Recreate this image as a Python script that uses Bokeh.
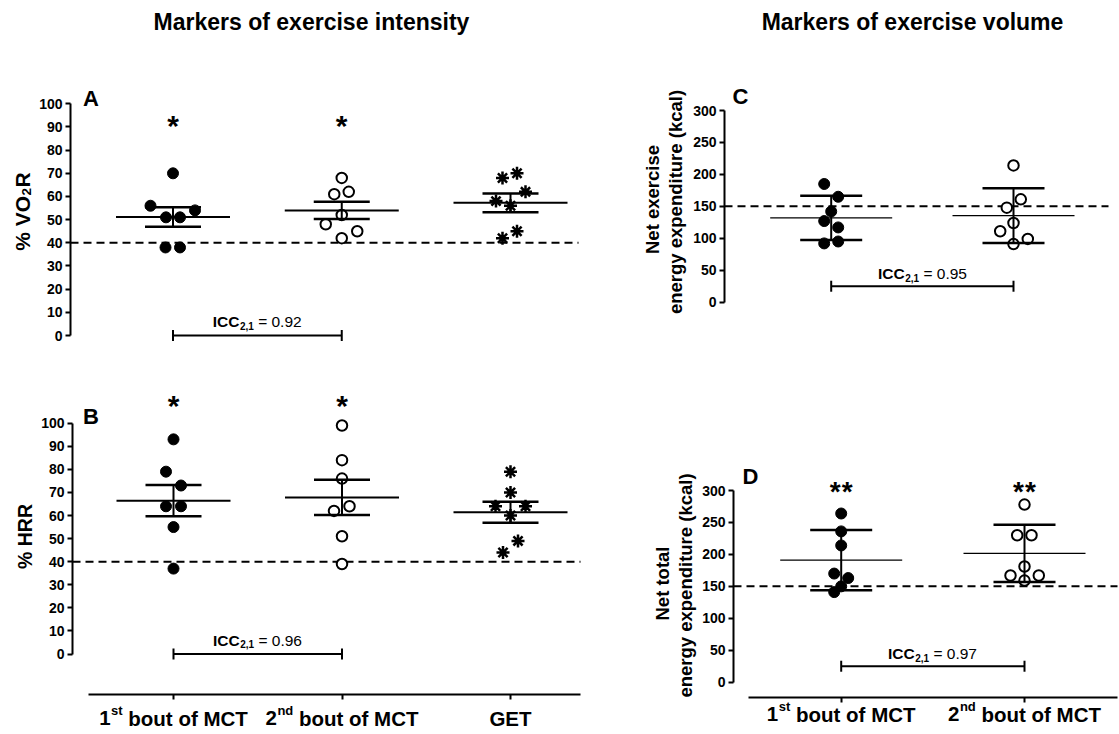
import numpy as np
from bokeh.plotting import figure
from bokeh.models import Range1d, Label, FixedTicker
from bokeh.layouts import row, column
from bokeh.embed import file_html
from bokeh.resources import INLINE

# ---------------- data ----------------
categories_intensity = ["1st bout of MCT", "2nd bout of MCT", "GET"]
categories_volume = ["1st bout of MCT", "2nd bout of MCT"]

vo2r_mct1 = [70, 56, 51, 51, 54, 38, 38]
vo2r_mct2 = [68, 61, 62, 52, 48, 45, 42]
vo2r_get = [68, 70, 62, 58, 56, 42, 45]

hrr_mct1 = [93, 79, 73, 64, 64, 55, 37]
hrr_mct2 = [99, 84, 76, 62, 64, 51, 39]
hrr_get = [79, 70, 64, 64, 60, 49, 44]

net_ex_mct1 = [185, 165, 142, 127, 117, 92, 95]
net_ex_mct2 = [214, 161, 148, 124, 111, 91, 99]

net_tot_mct1 = [264, 236, 214, 170, 163, 141, 150]
net_tot_mct2 = [278, 230, 230, 181, 167, 167, 159]

icc_vo2r = 0.92
icc_hrr = 0.96
icc_net_ex = 0.95
icc_net_tot = 0.97

intensity_threshold = 40
volume_threshold = 150
y_ticks_intensity = [0, 10, 20, 30, 40, 50, 60, 70, 80, 90, 100]
y_ticks_volume = [0, 50, 100, 150, 200, 250, 300]

# ---------------- layout: horizontal scatter of the points (px) ----------------
vo2r_mct1_dx = [0, -22.5, -7, 7, 22, -7.5, 7]
vo2r_mct2_dx = [0, -7.5, 7, 0, -16, 15.5, 0]
vo2r_get_dx = [-8, 6.5, 15, -14.5, 0, -8, 6.5]
hrr_mct1_dx = [0, -7.5, 7.5, -7.5, 7.5, 0, 0]
hrr_mct2_dx = [0, 0, 0, -8, 7.5, 0, 0]
hrr_get_dx = [0, 0, -15, 15, 0, 7.5, -7.5]
net_ex_mct1_dx = [-7, 7, 0, -7, 7, -7, 7]
net_ex_mct2_dx = [0, 7.3, -6.7, 0, -13.3, 0, 14.3]
net_tot_mct1_dx = [0, 0, 0, -7, 7, -7, 0]
net_tot_mct2_dx = [0, -7.3, 7, 0, -14, 14.3, 0]

FONT = "Liberation Sans"

BOLD_W = {' ': 278, '%': 889, '(': 333, ')': 333, ',': 278, '.': 278, '=': 584, '*': 389,
          'A': 722, 'B': 722, 'C': 722, 'D': 722, 'E': 667, 'G': 778, 'H': 722, 'I': 278,
          'M': 833, 'N': 722, 'O': 778, 'R': 722, 'T': 611, 'V': 667,
          'a': 556, 'b': 611, 'c': 556, 'd': 611, 'e': 556, 'f': 333, 'g': 611, 'i': 278,
          'k': 556, 'l': 278, 'm': 889, 'n': 611, 'o': 611, 'p': 611, 'r': 389, 's': 556,
          't': 333, 'u': 611, 'v': 556, 'x': 556, 'y': 556}
REG_W = {' ': 278, '=': 584, '.': 278, ',': 278}


def text_w(s, size, bold=True):
    tab = BOLD_W if bold else REG_W
    return sum(tab.get(c, 556) for c in s) / 1000.0 * size


def make_panel(fig_box, xcal, ycal, y_axis_px, x_axis_px=None):
    """Frame covers the whole figure; axes are pinned with fixed_location."""
    fx0, fy0, fw, fh = fig_box
    (px0, vx0), (px1, vx1) = xcal
    (py0, vy0), (py1, vy1) = ycal
    sx = (vx1 - vx0) / (px1 - px0)
    sy = (vy1 - vy0) / (py1 - py0)

    def X(px):
        return vx0 + (px - px0) * sx

    def Y(py):
        return vy0 + (py - py0) * sy

    p = figure(width=fw, height=fh,
               x_range=Range1d(X(fx0), X(fx0 + fw)), y_range=Range1d(Y(fy0 + fh), Y(fy0)),
               min_border_left=0, min_border_right=0, min_border_top=0, min_border_bottom=0,
               toolbar_location=None, output_backend="svg",
               x_axis_location="below" if x_axis_px is not None else None,
               y_axis_location="left")
    p.title.visible = False
    p.grid.visible = False
    p.outline_line_color = None
    p.background_fill_color = "white"
    p.border_fill_color = "white"
    p.yaxis[0].fixed_location = X(y_axis_px)
    if x_axis_px is not None:
        p.xaxis[0].fixed_location = Y(x_axis_px)
    return p, X, Y, 1.0 / sx


def style_y(p, ticks):
    ax = p.yaxis[0]
    ax.ticker = FixedTicker(ticks=ticks)
    ax.bounds = (ticks[0], ticks[-1])
    ax.axis_line_width = 2
    ax.axis_line_color = "black"
    ax.major_tick_line_width = 2
    ax.major_tick_line_color = "black"
    ax.major_tick_out = 5
    ax.major_tick_in = 0
    ax.minor_tick_line_color = None
    ax.major_label_text_font = FONT
    ax.major_label_text_font_style = "bold"
    ax.major_label_text_font_size = "14px"
    ax.major_label_text_color = "black"
    ax.major_label_standoff = 3


def style_x(p, ticks, lo, hi):
    ax = p.xaxis[0]
    ax.ticker = FixedTicker(ticks=ticks)
    ax.bounds = (lo, hi)
    ax.axis_line_width = 2
    ax.axis_line_color = "black"
    ax.major_tick_line_width = 2
    ax.major_tick_line_color = "black"
    ax.major_tick_out = 5
    ax.major_tick_in = 0
    ax.minor_tick_line_color = None
    ax.major_label_text_font_size = "1px"
    ax.major_label_text_alpha = 0
    ax.major_label_standoff = 0


def threshold_line(p, X, level, x0_px, x1_px):
    p.segment([X(x0_px)], [level], [X(x1_px)], [level], line_color="black",
              line_width=2, line_dash="8 5")


def draw_group(p, cat, vals, dx_px, ppu, kind, err_kind, mean_half, cap_half, mean_lw):
    vals = np.asarray(vals, dtype=float)
    xs = cat + np.asarray(dx_px, dtype=float) / ppu
    if kind == "filled":
        p.scatter(xs, vals, marker="circle", size=11, fill_color="black", line_color="black")
    elif kind == "open":
        p.scatter(xs, vals, marker="circle", size=10.5, fill_color="white",
                  line_color="black", line_width=2)
    else:
        p.scatter(xs, vals, marker="asterisk", size=13, line_color="black", line_width=2.5)
    m = vals.mean()
    sd = vals.std(ddof=1)
    e = sd / np.sqrt(len(vals)) if err_kind == "sem" else sd
    p.segment([cat], [m - e], [cat], [m + e], line_width=2, line_color="black")
    p.scatter([cat, cat], [m - e, m + e], marker="dash", size=2 * cap_half,
              line_width=2.5, line_color="black")
    p.scatter([cat], [m], marker="dash", size=2 * mean_half,
              line_width=mean_lw, line_color="black")


def label(p, x, y, text, size, bold=True, align="center", angle=0.0):
    p.add_layout(Label(x=x, y=y, text=text, text_font=FONT, text_font_size=f"{size}px",
                       text_font_style="bold" if bold else "normal",
                       text_align=align, text_baseline="middle", angle=angle,
                       text_color="black"))


def put_pieces(p, X, Y, cx_px, cy_px, pieces):
    # pieces: (text, size, bold, dy_px, gap_before_px); horizontal run centred on cx
    total = sum(text_w(t, s, b) + g for t, s, b, dy, g in pieces)
    x = cx_px - total / 2.0
    for t, s, b, dy, g in pieces:
        x += g
        label(p, X(x), Y(cy_px + dy), t, s, b, align="left")
        x += text_w(t, s, b)


def put_vpieces(p, X, Y, cx_px, cy_px, pieces):
    # rotated (bottom-to-top) run centred on cy; pieces: (text, size, bold, dx_px, gap)
    total = sum(text_w(t, s, b) + g for t, s, b, dx, g in pieces)
    y = cy_px + total / 2.0
    for t, s, b, dx, g in pieces:
        y -= g
        label(p, X(cx_px + dx), Y(y), t, s, b, align="left", angle=np.pi / 2)
        y -= text_w(t, s, b)


def put_text(p, X, Y, x_px, y_px, text, size, bold=True, angle=0.0):
    label(p, X(x_px), Y(y_px), text, size, bold, angle=angle)


def icc_bracket(p, x0, x1, yv):
    p.segment([x0], [yv], [x1], [yv], line_width=2, line_color="black")
    p.scatter([x0, x1], [yv, yv], marker="dash", angle=np.pi / 2, size=11,
              line_width=2, line_color="black")


def icc_text(p, X, Y, cx_px, cy_px, icc, size=15.5):
    put_pieces(p, X, Y, cx_px, cy_px,
               [("ICC", size, True, 0, 0), ("2,1", 10, True, 4, 0.5),
                (f"= {icc:.2f}", size, False, 0, text_w(" ", size, False))])


def category_label(p, X, Y, cx_px, cy_px, name, size=20.5, sup_size=13):
    if name[0].isdigit():
        num, sup, rest = name[0], name[1:3], name[3:].strip()
        pieces = [(num, size, True, 0, 0), (sup, sup_size, True, -7.5, 0.5),
                  (rest, size, True, 0, text_w(" ", size))]
    else:
        pieces = [(name, size, True, 0, 0)]
    put_pieces(p, X, Y, cx_px, cy_px, pieces)


# ---------------- Panel A ----------------
pA, XA, YA, ppuA = make_panel((0, 0, 600, 370), ((172.5, 1), (510, 3)),
                              ((335, 0), (103.3, 100)), 70)
style_y(pA, y_ticks_intensity)
threshold_line(pA, XA, intensity_threshold, 70, 578)
draw_group(pA, 1, vo2r_mct1, vo2r_mct1_dx, ppuA, "filled", "sem", 57, 28, 2)
draw_group(pA, 2, vo2r_mct2, vo2r_mct2_dx, ppuA, "open", "sem", 57, 28, 2)
draw_group(pA, 3, vo2r_get, vo2r_get_dx, ppuA, "star", "sem", 57, 28, 2)
icc_bracket(pA, 1, 2, 0)
icc_text(pA, XA, YA, 256.7, 321, icc_vo2r)
for c in (172.5, 341):
    put_text(pA, XA, YA, c, 125, "*", 30)
put_text(pA, XA, YA, 90.5, 97.5, "A", 22)
put_text(pA, XA, YA, 311, 21, "Markers of exercise intensity", 23)
put_vpieces(pA, XA, YA, 22, 211, [("% VO", 21, True, 0, 0), ("2", 13.5, True, 4, 0.5),
                                   ("R", 21, True, 0, 0.5)])

# ---------------- Panel C ----------------
pC, XC, YC, ppuC = make_panel((600, 0, 519, 370), ((830.7, 1), (1013, 2)),
                              ((301.7, 0), (110, 300)), 724)
style_y(pC, y_ticks_volume)
threshold_line(pC, XC, volume_threshold, 724, 1108)
draw_group(pC, 1, net_ex_mct1, net_ex_mct1_dx, ppuC, "filled", "sd", 61, 31, 1.3)
draw_group(pC, 2, net_ex_mct2, net_ex_mct2_dx, ppuC, "open", "sd", 61, 31, 1.3)
icc_bracket(pC, 1, 2, 25)
icc_text(pC, XC, YC, 922, 273, icc_net_ex)
put_text(pC, XC, YC, 740, 95.5, "C", 22)
put_text(pC, XC, YC, 912, 21, "Markers of exercise volume", 23)
put_text(pC, XC, YC, 652, 199, "Net exercise", 18.5, angle=np.pi / 2)
put_text(pC, XC, YC, 675, 201.5, "energy expenditure (kcal)", 18.5, angle=np.pi / 2)

# ---------------- Panel B ----------------
pB, XB, YB, ppuB = make_panel((0, 370, 600, 364), ((173, 1), (510, 3)),
                              ((653.5, 0), (422.7, 100)), 72, 694)
style_y(pB, y_ticks_intensity)
style_x(pB, [1, 2, 3], XB(88), XB(580))
threshold_line(pB, XB, intensity_threshold, 72, 580)
draw_group(pB, 1, hrr_mct1, hrr_mct1_dx, ppuB, "filled", "sem", 57, 28, 2)
draw_group(pB, 2, hrr_mct2, hrr_mct2_dx, ppuB, "open", "sem", 57, 28, 2)
draw_group(pB, 3, hrr_get, hrr_get_dx, ppuB, "star", "sem", 57, 28, 2)
icc_bracket(pB, 1, 2, 0)
icc_text(pB, XB, YB, 257, 639.5, icc_hrr)
for c in (173, 341.5):
    put_text(pB, XB, YB, c, 404.7, "*", 30)
put_text(pB, XB, YB, 90.5, 415.5, "B", 22)
for c_px, name in zip((173, 341.5, 510), categories_intensity):
    category_label(pB, XB, YB, c_px, 717.5, name)
put_vpieces(pB, XB, YB, 24, 536, [("% HRR", 19.5, True, 0, 0)])

# ---------------- Panel D ----------------
pD, XD, YD, ppuD = make_panel((600, 370, 519, 364), ((840.7, 1), (1024, 2)),
                              ((681.7, 0), (490, 300)), 733, 697)
style_y(pD, y_ticks_volume)
style_x(pD, [1, 2], XD(748), XD(1117))
threshold_line(pD, XD, volume_threshold, 733, 1117)
draw_group(pD, 1, net_tot_mct1, net_tot_mct1_dx, ppuD, "filled", "sd", 61, 31, 1.3)
draw_group(pD, 2, net_tot_mct2, net_tot_mct2_dx, ppuD, "open", "sd", 61, 31, 1.3)
icc_bracket(pD, 1, 2, 25)
icc_text(pD, XD, YD, 932, 653, icc_net_tot)
for c in (840.7, 1024):
    put_text(pD, XD, YD, c - 6, 491, "*", 28)
    put_text(pD, XD, YD, c + 6, 491, "*", 28)
put_text(pD, XD, YD, 750, 475.5, "D", 22)
for c_px, name in zip((840.7, 1024), categories_volume):
    category_label(pD, XD, YD, c_px, 713.5, name)
put_text(pD, XD, YD, 662, 583, "Net total", 18.5, angle=np.pi / 2)
put_text(pD, XD, YD, 685, 585, "energy expenditure (kcal)", 18.5, angle=np.pi / 2)

layout = column(row(pA, pC), row(pB, pD))
open("out.html", "w").write(file_html(layout, INLINE))
